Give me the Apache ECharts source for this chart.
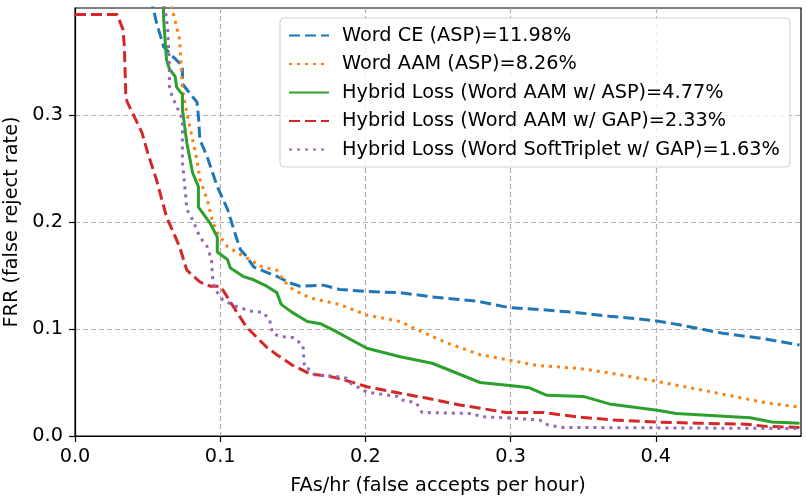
<!DOCTYPE html>
<html>
<head>
<meta charset="utf-8">
<script src="https://cdn.jsdelivr.net/npm/echarts@6/dist/echarts.min.js"></script>
<style>
html,body{margin:0;padding:0;background:#fff;}
#chart{width:806px;height:497px;}
</style>
</head>
<body>
<div id="chart"></div>
<script>
// Series names (legend)
var seriesNames = [
  'Word CE (ASP)=11.98%',
  'Word AAM (ASP)=8.26%',
  'Hybrid Loss (Word AAM w/ ASP)=4.77%',
  'Hybrid Loss (Word AAM w/ GAP)=2.33%',
  'Hybrid Loss (Word SoftTriplet w/ GAP)=1.63%'
];
var xTicks = [0, 0.1, 0.2, 0.3, 0.4];
var yTicks = [0, 0.1, 0.2, 0.3];

// [FAs/hr, FRR] points
var wordCE = [[0.052,0.41],[0.054,0.399],[0.056,0.387],[0.061,0.364],[0.067,0.355],[0.074,0.346],[0.074,0.329],[0.081,0.317],[0.084,0.312],[0.085,0.299],[0.086,0.277],[0.091,0.261],[0.098,0.233],[0.105,0.212],[0.111,0.186],[0.114,0.174],[0.118,0.168],[0.123,0.158],[0.132,0.153],[0.141,0.148],[0.148,0.143],[0.155,0.140],[0.171,0.141],[0.182,0.137],[0.201,0.135],[0.224,0.134],[0.246,0.130],[0.277,0.126],[0.299,0.120],[0.322,0.118],[0.348,0.115],[0.368,0.112],[0.398,0.108],[0.416,0.104],[0.446,0.096],[0.474,0.091],[0.499,0.085]];
var wordAAM = [[0.066,0.41],[0.067,0.399],[0.072,0.371],[0.074,0.324],[0.077,0.302],[0.081,0.277],[0.084,0.258],[0.086,0.240],[0.091,0.221],[0.095,0.199],[0.098,0.190],[0.105,0.177],[0.111,0.172],[0.120,0.165],[0.129,0.158],[0.139,0.155],[0.143,0.146],[0.150,0.137],[0.162,0.129],[0.182,0.123],[0.201,0.113],[0.224,0.107],[0.233,0.101],[0.256,0.087],[0.279,0.076],[0.299,0.071],[0.318,0.066],[0.348,0.063],[0.368,0.059],[0.401,0.051],[0.439,0.041],[0.476,0.031],[0.499,0.027]];
var hybridAsp = [[0.061,0.41],[0.061,0.390],[0.062,0.371],[0.063,0.352],[0.065,0.343],[0.069,0.336],[0.070,0.326],[0.074,0.319],[0.074,0.305],[0.077,0.274],[0.081,0.246],[0.085,0.233],[0.085,0.214],[0.093,0.199],[0.098,0.186],[0.098,0.172],[0.105,0.165],[0.107,0.157],[0.116,0.149],[0.123,0.146],[0.132,0.140],[0.139,0.134],[0.142,0.123],[0.149,0.116],[0.160,0.107],[0.169,0.105],[0.178,0.099],[0.201,0.082],[0.224,0.074],[0.246,0.068],[0.279,0.050],[0.301,0.047],[0.313,0.045],[0.325,0.038],[0.350,0.037],[0.368,0.030],[0.401,0.024],[0.414,0.021],[0.465,0.017],[0.480,0.013],[0.499,0.012]];
var hybridGap = [[0.000,0.394],[0.029,0.394],[0.033,0.380],[0.034,0.364],[0.035,0.317],[0.036,0.312],[0.046,0.284],[0.050,0.265],[0.056,0.240],[0.063,0.205],[0.072,0.177],[0.077,0.155],[0.086,0.144],[0.093,0.140],[0.100,0.140],[0.103,0.134],[0.109,0.121],[0.118,0.102],[0.132,0.083],[0.139,0.076],[0.150,0.066],[0.162,0.058],[0.178,0.055],[0.189,0.051],[0.201,0.046],[0.224,0.040],[0.240,0.036],[0.265,0.029],[0.297,0.022],[0.322,0.022],[0.345,0.018],[0.370,0.015],[0.401,0.013],[0.428,0.012],[0.462,0.011],[0.476,0.009],[0.499,0.008]];
var softTriplet = [[0.062,0.41],[0.062,0.399],[0.063,0.390],[0.064,0.377],[0.065,0.346],[0.065,0.327],[0.067,0.317],[0.070,0.308],[0.074,0.296],[0.074,0.274],[0.074,0.256],[0.076,0.228],[0.077,0.212],[0.081,0.202],[0.086,0.186],[0.091,0.177],[0.094,0.165],[0.095,0.143],[0.098,0.134],[0.102,0.127],[0.111,0.121],[0.123,0.116],[0.129,0.116],[0.134,0.109],[0.136,0.096],[0.141,0.093],[0.150,0.092],[0.157,0.085],[0.158,0.064],[0.162,0.062],[0.165,0.057],[0.178,0.056],[0.187,0.054],[0.189,0.050],[0.201,0.041],[0.222,0.037],[0.224,0.034],[0.235,0.031],[0.239,0.022],[0.274,0.021],[0.279,0.018],[0.297,0.017],[0.320,0.015],[0.326,0.010],[0.336,0.008],[0.499,0.007]];

var colors = ['#1f77b4','#ff7f0e','#2ca02c','#d62728','#9467bd'];
var dashes = [[11,5],[3,5],'solid',[11,5],[3,5]];
var dataSets = [wordCE, wordAAM, hybridAsp, hybridGap, softTriplet];

var FONT = 'DejaVu Sans';
var series = dataSets.map(function(d, i){
  return {
    name: seriesNames[i],
    type: 'line',
    data: d,
    symbol: 'none',
    showSymbol: false,
    clip: true,
    animation: false,
    lineStyle: {color: colors[i], width: 3, type: dashes[i], cap: 'butt'},
    itemStyle: {color: colors[i]},
    z: 3
  };
});

var chart = echarts.init(document.getElementById('chart'), null, {renderer: 'canvas'});
chart.setOption({
  animation: false,
  backgroundColor: '#fff',
  textStyle: {fontFamily: FONT},
  grid: {left: 75, right: 5, top: 8, bottom: 61, show: true, borderColor: '#000', borderWidth: 1.2,
    backgroundColor: 'transparent', containLabel: false, outerBoundsMode: 'none'},
  legend: {
    orient: 'vertical',
    left: 280, top: 18,
    data: seriesNames,
    itemWidth: 40, itemHeight: 14, itemGap: 9.5,
    padding: [8, 10, 8, 8],
    backgroundColor: 'rgba(255,255,255,0.8)',
    borderColor: '#d0d0d0', borderWidth: 1, borderRadius: 4,
    itemStyle: {opacity: 0},
    textStyle: {fontFamily: FONT, fontSize: 19.3, color: '#000', lineHeight: 19, padding: [0,0,0,8]},
    selectedMode: false
  },
  xAxis: {
    type: 'value', min: 0, max: 0.5, interval: 0.1,
    name: 'FAs/hr (false accepts per hour)', nameLocation: 'middle', nameGap: 40,
    nameTextStyle: {fontFamily: FONT, fontSize: 19.3, color: '#000'},
    axisLine: {show: true, onZero: false, lineStyle: {color: '#000', width: 1.2}},
    axisTick: {show: true, length: 6, lineStyle: {color: '#000', width: 1.2}, customValues: xTicks},
    axisLabel: {fontFamily: FONT, fontSize: 19.3, color: '#000', margin: 11, customValues: xTicks,
      formatter: function(v){ return v.toFixed(1); }},
    splitLine: {show: true, lineStyle: {color: '#b0b0b0', type: [5,3], width: 1.2}}
  },
  yAxis: {
    type: 'value', min: 0, max: 0.4, interval: 0.1,
    name: 'FRR (false reject rate)', nameLocation: 'middle', nameGap: 47,
    nameTextStyle: {fontFamily: FONT, fontSize: 19.3, color: '#000'},
    axisLine: {show: true, onZero: false, lineStyle: {color: '#000', width: 1.2}},
    axisTick: {show: true, length: 6, lineStyle: {color: '#000', width: 1.2}, customValues: yTicks},
    axisLabel: {fontFamily: FONT, fontSize: 19.3, color: '#000', margin: 12, customValues: yTicks,
      formatter: function(v){ return v.toFixed(1); }},
    splitLine: {show: true, lineStyle: {color: '#b0b0b0', type: [5,3], width: 1.2}}
  },
  series: series
});
</script>
</body>
</html>
